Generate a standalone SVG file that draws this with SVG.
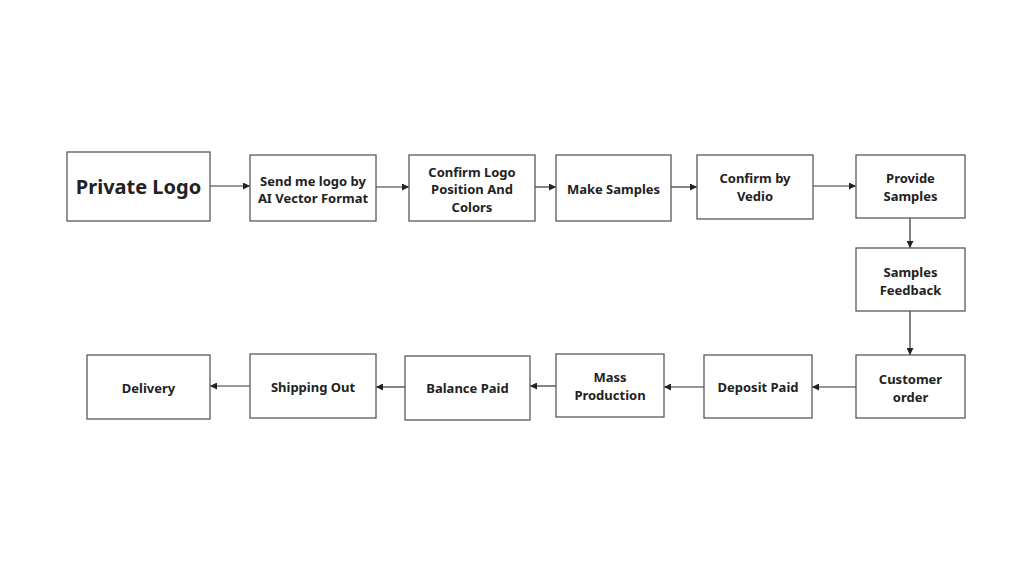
<svg xmlns="http://www.w3.org/2000/svg" width="1024" height="568" viewBox="0 0 1024 568">
<style>
.box{fill:#fff;stroke:#5a5a5a;stroke-width:1.3}
.t{font-family:"Noto Sans","Open Sans",sans-serif;font-weight:bold;font-size:13px;fill:#222;text-anchor:middle}
.big{font-size:20px}
.c{fill:none;stroke:#333;stroke-width:1.2}
</style>
<defs>
<marker id="a" viewBox="0 0 10 10" refX="10" refY="5" markerWidth="7" markerHeight="7" markerUnits="userSpaceOnUse" orient="auto">
<path d="M0,0 L10,5 L0,10 z" fill="#222"/>
</marker>
</defs>
<rect width="1024" height="568" fill="#fff"/>
<g id="connectors">
<line class="c" x1="210" y1="186" x2="250" y2="186" marker-end="url(#a)"/>
<line class="c" x1="376" y1="187" x2="409" y2="187" marker-end="url(#a)"/>
<line class="c" x1="535" y1="187" x2="556" y2="187" marker-end="url(#a)"/>
<line class="c" x1="671" y1="187" x2="697" y2="187" marker-end="url(#a)"/>
<line class="c" x1="813" y1="186" x2="856" y2="186" marker-end="url(#a)"/>
<line class="c" x1="910" y1="218" x2="910" y2="248" marker-end="url(#a)"/>
<line class="c" x1="910" y1="311" x2="910" y2="355" marker-end="url(#a)"/>
<line class="c" x1="856" y1="387" x2="812" y2="387" marker-end="url(#a)"/>
<line class="c" x1="704" y1="387" x2="664" y2="387" marker-end="url(#a)"/>
<line class="c" x1="556" y1="386" x2="530" y2="386" marker-end="url(#a)"/>
<line class="c" x1="405" y1="387" x2="376" y2="387" marker-end="url(#a)"/>
<line class="c" x1="250" y1="386" x2="210" y2="386" marker-end="url(#a)"/>
</g>
<g id="n1"><rect class="box" x="67" y="152" width="143" height="69"/><text class="t big" x="138.5" y="194">Private Logo</text></g>
<g id="n2"><rect class="box" x="250" y="155" width="126" height="66"/><text class="t" x="313" y="186">Send me logo by</text><text class="t" x="313" y="203">AI Vector Format</text></g>
<g id="n3"><rect class="box" x="409" y="155" width="126" height="66"/><text class="t" x="472" y="177">Confirm Logo</text><text class="t" x="472" y="194">Position And</text><text class="t" x="472" y="212">Colors</text></g>
<g id="n4"><rect class="box" x="556" y="155" width="115" height="66"/><text class="t" x="613.5" y="194">Make Samples</text></g>
<g id="n5"><rect class="box" x="697" y="155" width="116" height="64"/><text class="t" x="755" y="183">Confirm by</text><text class="t" x="755" y="201">Vedio</text></g>
<g id="n6"><rect class="box" x="856" y="155" width="109" height="63"/><text class="t" x="910.5" y="183">Provide</text><text class="t" x="910.5" y="201">Samples</text></g>
<g id="n7"><rect class="box" x="856" y="248" width="109" height="63"/><text class="t" x="910.5" y="277">Samples</text><text class="t" x="910.5" y="295">Feedback</text></g>
<g id="n8"><rect class="box" x="856" y="355" width="109" height="63"/><text class="t" x="910.5" y="384">Customer</text><text class="t" x="910.5" y="402">order</text></g>
<g id="n9"><rect class="box" x="704" y="355" width="108" height="63"/><text class="t" x="758" y="392">Deposit Paid</text></g>
<g id="n10"><rect class="box" x="556" y="354" width="108" height="63"/><text class="t" x="610" y="382">Mass</text><text class="t" x="610" y="400">Production</text></g>
<g id="n11"><rect class="box" x="405" y="356" width="125" height="64"/><text class="t" x="467.5" y="393">Balance Paid</text></g>
<g id="n12"><rect class="box" x="250" y="354" width="126" height="64"/><text class="t" x="313" y="392">Shipping Out</text></g>
<g id="n13"><rect class="box" x="87" y="355" width="123" height="64"/><text class="t" x="148.5" y="393">Delivery</text></g>
</svg>
